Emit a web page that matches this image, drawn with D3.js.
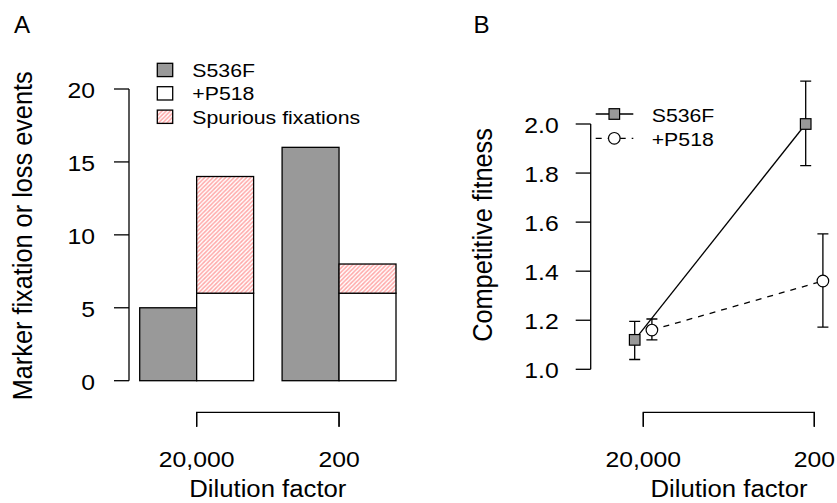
<!DOCTYPE html>
<html>
<head>
<meta charset="utf-8">
<script src="https://cdn.jsdelivr.net/npm/d3@7"></script>
<style>
  body { margin: 0; background: #fff; }
  svg { display: block; }
  text { font-family: "Liberation Sans", Arial, Helvetica, sans-serif; fill: #000; }
</style>
</head>
<body>
<svg id="fig" width="837" height="503"></svg>
<script>
// ---- Panel A: marker fixation / loss events per dilution factor ----
const dilutions = ["20,000", "200"];
const fixationSeries = ["S536F", "+P518"];
const fixS536F = [5, 16];
const fixP518 = [6, 6];
const spuriousP518 = [8, 2];
const fixTicks = [0, 5, 10, 15, 20];
const fixLegend = ["S536F", "+P518", "Spurious fixations"];

// ---- Panel B: competitive fitness (mean with error bars) ----
const fitnessSeries = ["S536F", "+P518"];
const fitS536F = [1.12, 2.00];
const fitS536FLow = [1.04, 1.83];
const fitS536FHigh = [1.195, 2.175];
const fitP518 = [1.16, 1.36];
const fitP518Low = [1.12, 1.172];
const fitP518High = [1.205, 1.552];
const fitTicks = [1.0, 1.2, 1.4, 1.6, 1.8, 2.0];

const GREY = "#999999";
const HATCH = "#ffa8a8";
const LW = 1.3;

const svg = d3.select("#fig");

// Hatch fill for spurious fixations
const defs = svg.append("defs");
const pat = defs.append("pattern")
  .attr("id", "hatch")
  .attr("patternUnits", "userSpaceOnUse")
  .attr("width", 4.2).attr("height", 4.2);
pat.append("rect").attr("width", 4.2).attr("height", 4.2).attr("fill", "#fff");
pat.append("path")
  .attr("d", "M0,4.2L4.2,0M-1,1L1,-1M3.2,5.2L5.2,3.2")
  .attr("stroke", HATCH).attr("stroke-width", 1.5);

// Text helper: slightly widened glyphs
function label(g, x, y, str, opt = {}) {
  const size = opt.size || 22.5, sx = opt.sx || 1.1;
  const rot = opt.rotate ? ` rotate(${opt.rotate})` : "";
  return g.append("text")
    .attr("transform", `translate(${x},${y}) scale(${sx},1)${rot}`)
    .attr("text-anchor", opt.anchor || "start")
    .attr("font-size", size)
    .text(str);
}

function styleAxis(g) {
  g.attr("font-family", null).attr("font-size", null);
  g.selectAll("path, line").attr("stroke", "#000").attr("stroke-width", LW);
}

function yAxisLabels(g, dx) {
  g.selectAll(".tick text")
    .attr("x", null).attr("dy", null)
    .attr("font-size", 22.5)
    .attr("transform", `translate(${dx},8.8) scale(1.1,1)`);
}

function xAxisLabels(g, dy) {
  g.selectAll(".tick text")
    .attr("y", null).attr("dy", null)
    .attr("font-size", 22.5)
    .attr("transform", `translate(0,${dy}) scale(1.1,1)`);
}

// =================== Panel A ===================
const gA = svg.append("g");
const xA = d3.scaleBand().domain(dilutions).range([139.7, 396]).paddingInner(0.2).paddingOuter(0);
const xAin = d3.scaleBand().domain(fixationSeries).range([0, xA.bandwidth()]);
const yA = d3.scaleLinear().domain([0, 20]).range([380.7, 89]);

dilutions.forEach((c, i) => {
  const x0 = xA(c);
  // S536F bar
  gA.append("rect")
    .attr("x", x0 + xAin("S536F")).attr("width", xAin.bandwidth())
    .attr("y", yA(fixS536F[i])).attr("height", yA(0) - yA(fixS536F[i]))
    .attr("fill", GREY).attr("stroke", "#000").attr("stroke-width", LW);
  // +P518 bar, stacked with spurious fixations on top
  const xp = x0 + xAin("+P518");
  gA.append("rect")
    .attr("x", xp).attr("width", xAin.bandwidth())
    .attr("y", yA(fixP518[i])).attr("height", yA(0) - yA(fixP518[i]))
    .attr("fill", "#fff").attr("stroke", "#000").attr("stroke-width", LW);
  const top = fixP518[i] + spuriousP518[i];
  gA.append("rect")
    .attr("x", xp).attr("width", xAin.bandwidth())
    .attr("y", yA(top)).attr("height", yA(fixP518[i]) - yA(top))
    .attr("fill", "url(#hatch)").attr("stroke", "#000").attr("stroke-width", LW);
});

// y axis
const axA = gA.append("g").attr("transform", "translate(129,0)")
  .call(d3.axisLeft(yA).tickValues(fixTicks).tickSizeInner(15).tickSizeOuter(0).offset(0));
styleAxis(axA);
yAxisLabels(axA, -34);

// x axis bracket at group centres
const xAc = d3.scalePoint().domain(dilutions)
  .range([xA(dilutions[0]) + xA.bandwidth() / 2, xA(dilutions[1]) + xA.bandwidth() / 2]);
const axAx = gA.append("g").attr("transform", "translate(0,412.3)")
  .call(d3.axisBottom(xAc).tickSizeInner(14.4).tickSizeOuter(14.4).offset(0));
styleAxis(axAx);
xAxisLabels(axAx, 54.4);

label(gA, 267.8, 496.7, "Dilution factor", { size: 24.5, anchor: "middle", sx: 1.05 });
label(gA, 32.3, 235.8, "Marker fixation or loss events", { size: 25.3, anchor: "middle", sx: 1.06, rotate: -90 });
label(gA, 14, 33.3, "A", { size: 23, sx: 1.05 });

// legend A
const legFill = [GREY, "#fff", "url(#hatch)"];
fixLegend.forEach((name, i) => {
  const yTop = 63.3 + i * 23.4;
  gA.append("rect")
    .attr("x", 157.3).attr("y", yTop).attr("width", 15.4).attr("height", 13.3)
    .attr("fill", legFill[i]).attr("stroke", "#000").attr("stroke-width", LW);
  label(gA, 192.3, yTop + 13.4, name, { size: 19, sx: 1.12 });
});

// =================== Panel B ===================
const gB = svg.append("g");
const xB = d3.scalePoint().domain(dilutions).range([643.3, 814.3]);
const dodge = d3.scalePoint().domain(fitnessSeries).range([-8.6, 8.6]);
const yB = d3.scaleLinear().domain([1, 2]).range([369.3, 124]);

const seriesB = [
  { name: "S536F", mean: fitS536F, low: fitS536FLow, high: fitS536FHigh, dash: null, shape: "square" },
  { name: "+P518", mean: fitP518, low: fitP518Low, high: fitP518High, dash: "6,6", shape: "circle" }
];

const line = d3.line();
seriesB.forEach(s => {
  const pts = s.mean.map((v, i) => [xB(dilutions[i]) + dodge(s.name), yB(v)]);
  gB.append("path").attr("d", line(pts))
    .attr("fill", "none").attr("stroke", "#000").attr("stroke-width", LW)
    .attr("stroke-dasharray", s.dash);
});

function marker(g, shape, x, y) {
  if (shape === "square") {
    g.append("rect").attr("x", x - 5.3).attr("y", y - 5.3).attr("width", 10.6).attr("height", 10.6)
      .attr("fill", GREY).attr("stroke", "#000").attr("stroke-width", 1.2);
  } else {
    g.append("circle").attr("cx", x).attr("cy", y).attr("r", 5.8)
      .attr("fill", "#fff").attr("stroke", "#000").attr("stroke-width", 1.2);
  }
}

seriesB.forEach(s => {
  s.mean.forEach((v, i) => {
    const x = xB(dilutions[i]) + dodge(s.name);
    const y1 = yB(s.low[i]), y2 = yB(s.high[i]);
    gB.append("path")
      .attr("d", `M${x},${y1}V${y2}M${x - 5.5},${y1}H${x + 5.5}M${x - 5.5},${y2}H${x + 5.5}`)
      .attr("fill", "none").attr("stroke", "#000").attr("stroke-width", LW);
  });
});
seriesB.forEach(s => {
  s.mean.forEach((v, i) => marker(gB, s.shape, xB(dilutions[i]) + dodge(s.name), yB(v)));
});

// y axis
const axB = gB.append("g").attr("transform", "translate(590.7,0)")
  .call(d3.axisLeft(yB).tickValues(fitTicks).tickFormat(d3.format(".1f")).tickSizeInner(15).tickSizeOuter(0).offset(0));
styleAxis(axB);
yAxisLabels(axB, -32);

// x axis bracket
const axBx = gB.append("g").attr("transform", "translate(0,412.3)")
  .call(d3.axisBottom(xB).tickSizeInner(14.4).tickSizeOuter(14.4).offset(0));
styleAxis(axBx);
xAxisLabels(axBx, 54.4);

label(gB, 729, 496.7, "Dilution factor", { size: 24.5, anchor: "middle", sx: 1.05 });
label(gB, 492, 235, "Competitive fitness", { size: 25.3, anchor: "middle", sx: 1.06, rotate: -90 });
label(gB, 473.5, 33.3, "B", { size: 23, sx: 1.05 });

// legend B
seriesB.forEach((s, i) => {
  const y = 114 + i * 24.3;
  gB.append("path").attr("d", `M595.7,${y}H633.3`)
    .attr("stroke", "#000").attr("stroke-width", LW).attr("stroke-dasharray", s.dash);
  marker(gB, s.shape, 614.3, y);
  label(gB, 651.7, y + 7.7, s.name, { size: 19, sx: 1.12 });
});
</script>
</body>
</html>
